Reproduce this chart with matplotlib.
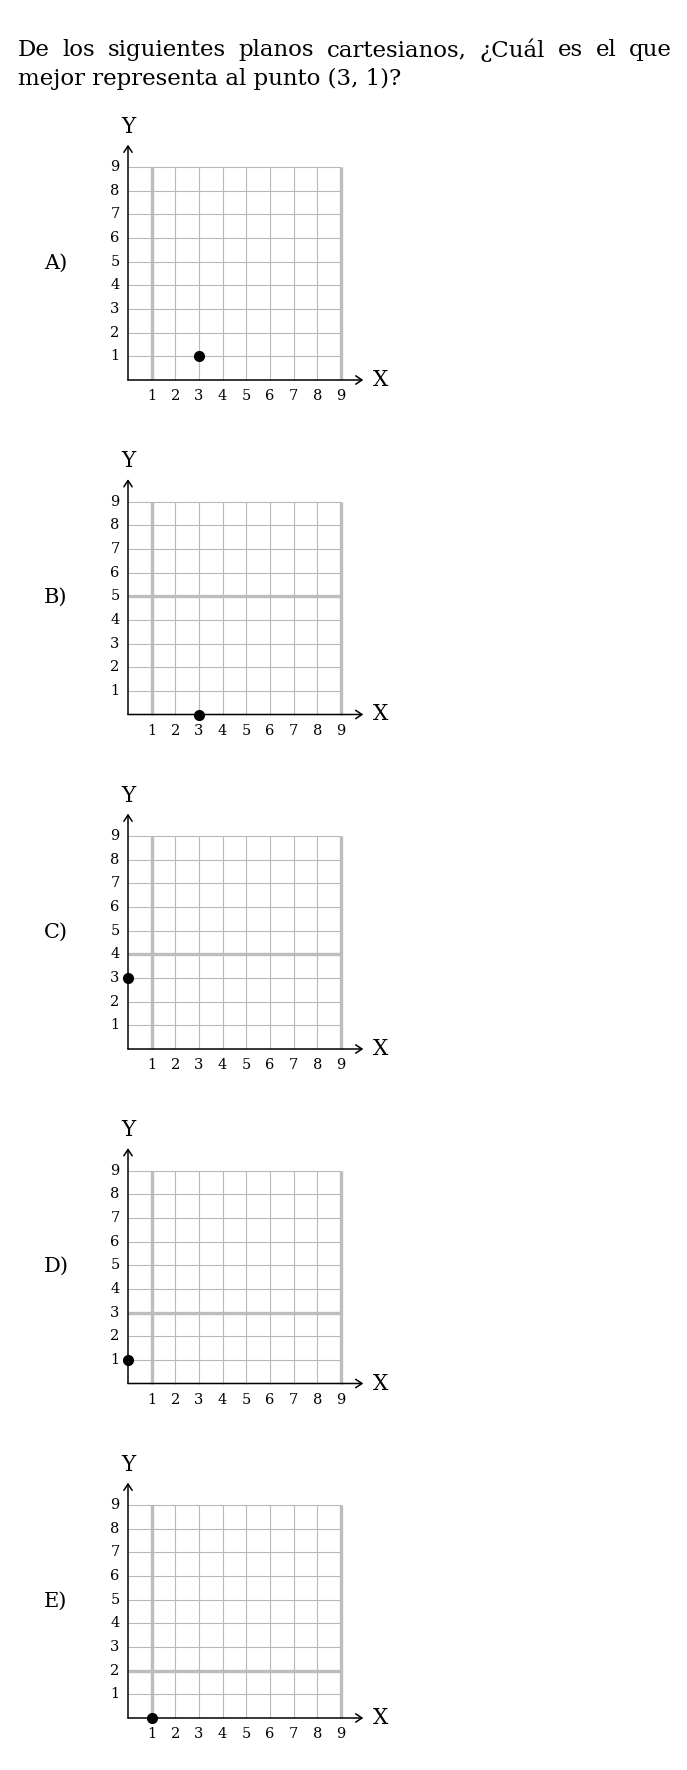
import matplotlib
matplotlib.use("Agg")
import matplotlib.pyplot as plt

# question text and options
heading_line1 = "De los siguientes planos cartesianos, ¿Cuál es el que"
heading_line2 = "mejor representa al punto (3, 1)?"
option_labels = ["A)", "B)", "C)", "D)", "E)"]
points_x = [3, 3, 0, 0, 1]
points_y = [1, 0, 3, 1, 0]
# horizontal grid line drawn heavier in each panel (None = none)
heavy_rows = [None, 5, 4, 3, 2]
ticks = [1, 2, 3, 4, 5, 6, 7, 8, 9]

W, H = 687, 1770
DPI = 100
UNIT = 23.65          # pixels per unit
ORIGIN_X = 128
ORIGIN_Y = [380, 714.5, 1049, 1383.5, 1718]   # from top
XMIN, XMAX, YMIN, YMAX = -3.6, 11.6, -1.3, 11.3

serif = ["DejaVu Serif"]

fig = plt.figure(figsize=(W / DPI, H / DPI), dpi=DPI)
fig.patch.set_facecolor("white")

# heading, line 1 justified between left and right margins
left_px, right_px = 18, 672
words = heading_line1.split()
texts = [fig.text(0, 1 - 50 / H, w, fontsize=16.5, family=serif, va="center", ha="left")
         for w in words]
fig.canvas.draw()
r = fig.canvas.get_renderer()
widths = [t.get_window_extent(r).width for t in texts]
gap = (right_px - left_px - sum(widths)) / (len(words) - 1)
x = left_px
for t, w in zip(texts, widths):
    t.set_x(x / W)
    x += w + gap
fig.text(left_px / W, 1 - 79 / H, heading_line2, fontsize=16.5, family=serif,
         va="center", ha="left")

for i, oy in enumerate(ORIGIN_Y):
    left = ORIGIN_X + XMIN * UNIT
    bottom = (H - oy) + YMIN * UNIT
    ax = fig.add_axes([left / W, bottom / H, (XMAX - XMIN) * UNIT / W,
                       (YMAX - YMIN) * UNIT / H])
    ax.set_xlim(XMIN, XMAX)
    ax.set_ylim(YMIN, YMAX)
    ax.axis("off")

    # grid
    for k in ticks:
        heavy = k in (1, 9)
        ax.plot([k, k], [0, 9], color="#bdbdbd" if heavy else "#b8b8b8",
                lw=2.4 if heavy else 0.8, zorder=1, solid_capstyle="butt")
        heavy_h = (k == heavy_rows[i])
        ax.plot([0, 9], [k, k], color="#bdbdbd" if heavy_h else "#b8b8b8",
                lw=2.4 if heavy_h else 0.8, zorder=1, solid_capstyle="butt")

    # axes with open arrow heads
    arrow = dict(arrowstyle="->,head_length=0.45,head_width=0.3", color="black",
                 lw=1.1, shrinkA=0, shrinkB=0)
    ax.annotate("", xy=(9.95, 0), xytext=(0, 0), arrowprops=arrow, zorder=3)
    ax.annotate("", xy=(0, 9.95), xytext=(0, 0), arrowprops=arrow, zorder=3)

    for k in ticks:
        ax.text(k, -0.68, str(k), ha="center", va="center", fontsize=10.5, family=serif)
        ax.text(-0.55, k, str(k), ha="center", va="center", fontsize=10.5, family=serif)

    ax.text(10.7, 0, "X", ha="center", va="center", fontsize=15.5, family=serif)
    ax.text(0, 10.7, "Y", ha="center", va="center", fontsize=15.5, family=serif)
    ax.text(-3.05, 4.95, option_labels[i], ha="center", va="center", fontsize=15,
            family=serif)

    ax.plot(points_x[i], points_y[i], "o", color="black", markersize=7, zorder=4,
            clip_on=False)

fig.savefig("out.png", dpi=DPI, facecolor="white")
